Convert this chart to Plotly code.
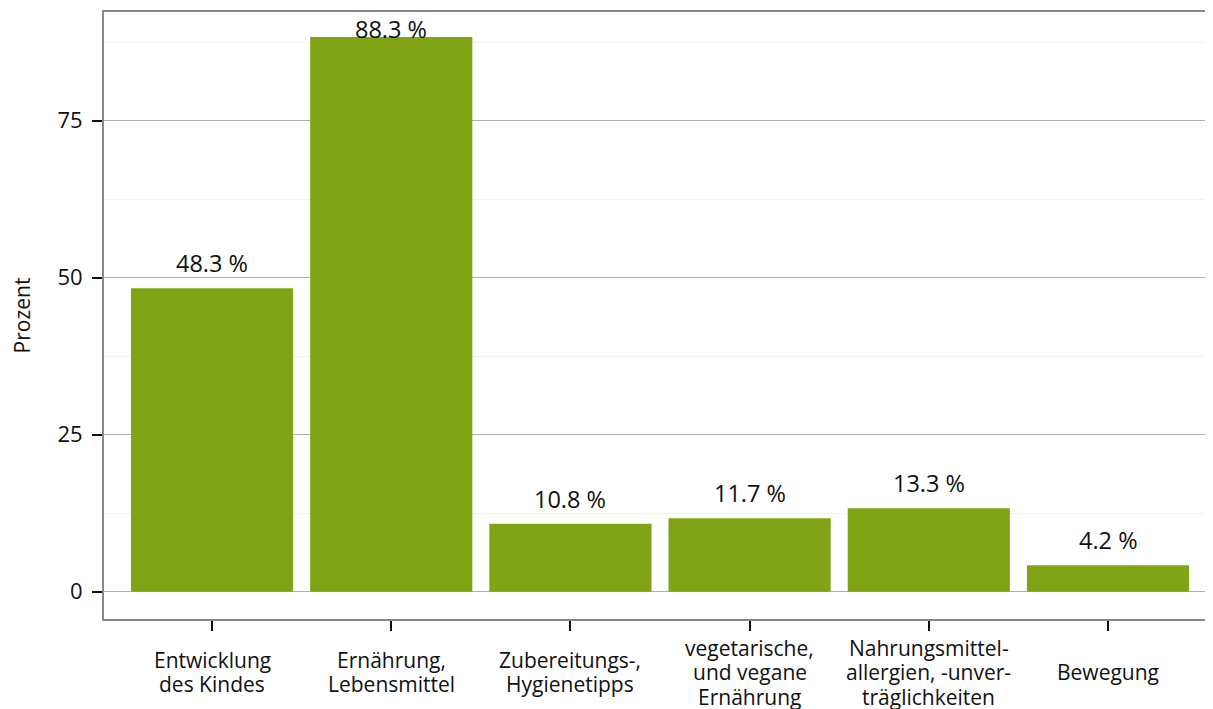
import plotly.graph_objects as go

categories = [
    ["Entwicklung", "des Kindes"],
    ["Ernährung,", "Lebensmittel"],
    ["Zubereitungs-,", "Hygienetipps"],
    ["vegetarische,", "und vegane", "Ernährung"],
    ["Nahrungsmittel-", "allergien, -unver-", "träglichkeiten"],
    ["Bewegung"],
]
values = [48.3, 88.3, 10.8, 11.7, 13.3, 4.2]
y_ticks = [0, 25, 50, 75]

FONT = "Open Sans"
GREEN = "#80a416"
LABEL_OFFSET = 4.0   # label centre above bar, in data units
LABEL_MAX = 89.6     # labels kept inside the frame
LINE_STEP = 24.5     # px between lines of a category label

x_pos = list(range(len(categories)))

fig = go.Figure(
    go.Bar(
        x=x_pos,
        y=values,
        marker=dict(color=GREEN, line=dict(width=0)),
        hoverinfo="skip",
    )
)

# value labels
for xi, v in zip(x_pos, values):
    fig.add_annotation(
        x=xi,
        y=min(v + LABEL_OFFSET, LABEL_MAX),
        text=f"{v:.1f} %",
        showarrow=False,
        xanchor="center",
        yanchor="middle",
        font=dict(family=FONT, size=23.5, color="#111"),
    )

# category labels, each block vertically centred below the axis
for xi, lines in zip(x_pos, categories):
    n = len(lines)
    for j, ln in enumerate(lines):
        fig.add_annotation(
            x=xi,
            xref="x",
            y=-0.0875,
            yref="paper",
            yshift=((n - 1) / 2 - j) * LINE_STEP,
            text=ln,
            showarrow=False,
            xanchor="center",
            yanchor="middle",
            font=dict(family=FONT, size=21, color="#111"),
        )

# page body has an 8px margin, so the figure is shifted by 8px
fig.update_layout(
    width=1205,
    height=701,
    margin=dict(l=96, r=0, t=4, b=90, autoexpand=False),
    paper_bgcolor="white",
    plot_bgcolor="white",
    bargap=0.095,
    showlegend=False,
    font=dict(family=FONT, size=19, color="#111"),
)

fig.update_xaxes(
    range=[-0.603, 5.586],
    tickmode="array",
    tickvals=x_pos,
    showticklabels=False,
    ticks="outside",
    ticklen=10,
    tickwidth=2,
    tickcolor="#111",
    showline=True,
    linecolor="#888888",
    linewidth=2,
    mirror=True,
    showgrid=False,
    zeroline=False,
    automargin=False,
)

fig.update_yaxes(
    range=[-4.35, 92.3],
    tickmode="array",
    tickvals=y_ticks,
    ticktext=[str(t) for t in y_ticks],
    ticks="outside",
    ticklen=10,
    tickwidth=2,
    tickcolor="#111",
    ticklabelstandoff=5,
    showline=True,
    linecolor="#888888",
    linewidth=2,
    mirror=False,
    showgrid=True,
    gridcolor="#b0b0b0",
    gridwidth=1,
    zeroline=False,
    automargin=False,
    minor=dict(tickmode="linear", tick0=12.5, dtick=25, showgrid=True,
               gridcolor="#f3f3f3", gridwidth=1, ticks=""),
    title=dict(text="Prozent", font=dict(family=FONT, size=21, color="#111"), standoff=28),
    tickfont=dict(family=FONT, size=22, color="#111"),
)

fig.write_html("out.html")
